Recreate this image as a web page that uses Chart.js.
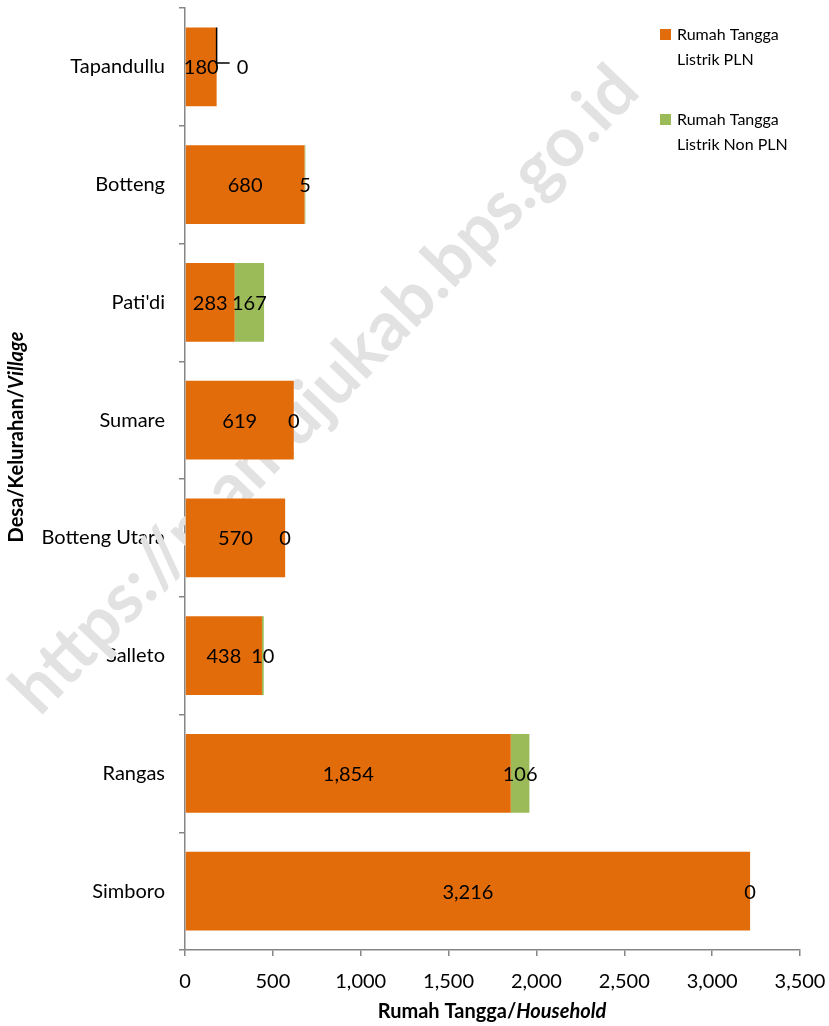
<!DOCTYPE html>
<html lang="id">
<head>
  <meta charset="UTF-8">
  <title>Rumah Tangga Listrik PLN / Non PLN</title>
  <script src="https://cdn.jsdelivr.net/npm/chart.js"></script>
  <style>
    body { margin: 0; background: #fff; }
    #chart { display: block; }
  </style>
</head>
<body>
  <canvas id="chart" width="829" height="1026"></canvas>

  <script>
    // Data
    const villages = ['Tapandullu', 'Botteng', "Pati'di", 'Sumare', 'Botteng Utara', 'Salleto', 'Rangas', 'Simboro'];
    const plnValues = [180, 680, 283, 619, 570, 438, 1854, 3216];
    const nonPlnValues = [0, 5, 167, 0, 0, 10, 106, 0];
    const seriesNames = [['Rumah Tangga', 'Listrik PLN'], ['Rumah Tangga', 'Listrik Non PLN']];
    const xTicks = [0, 500, 1000, 1500, 2000, 2500, 3000, 3500];

    const ORANGE = '#E36C0A';
    const GREEN = '#9BBB59';
    const AXIS = '#868686';
    const FONT = 'Lato, "Open Sans", sans-serif';

    // faint site watermark behind the bars
    const watermark = {
      id: 'watermark',
      beforeDatasetsDraw(chart) {
        const c = chart.ctx;
        c.save();
        c.translate(325, 390);
        c.rotate(-46 * Math.PI / 180);
        c.font = 'bold 69px ' + FONT;
        c.fillStyle = '#e2e2e2';
        c.textAlign = 'center';
        c.textBaseline = 'middle';
        c.fillText('https://mamujukab.bps.go.id', 0, 0);
        c.restore();
      }
    };

    // value labels centred on each segment
    const valueLabels = {
      id: 'valueLabels',
      afterDatasetsDraw(chart) {
        const c = chart.ctx;
        c.save();
        c.font = '20px ' + FONT;
        c.fillStyle = '#000';
        c.textAlign = 'center';
        c.textBaseline = 'middle';
        chart.data.datasets.forEach((ds, di) => {
          chart.getDatasetMeta(di).data.forEach((bar, i) => {
            const v = ds.data[i];
            let x = (bar.x + bar.base) / 2;
            const y = bar.y + 1;
            // Tapandullu's zero label sits out to the right with a leader line
            if (di === 1 && i === 0) {
              const h = bar.height / 2;
              c.strokeStyle = '#000';
              c.lineWidth = 1.5;
              c.beginPath();
              c.moveTo(bar.x, bar.y - h);
              c.lineTo(bar.x, bar.y - 4);
              c.lineTo(bar.x + 13, bar.y - 4);
              c.stroke();
              x = bar.x + 26;
            }
            c.fillText(v.toLocaleString('en-US'), x, y);
          });
        });
        c.restore();
      }
    };

    // legend and axis titles (mixed bold / bold-italic)
    const extras = {
      id: 'extras',
      afterDraw(chart) {
        const c = chart.ctx;
        c.save();
        // legend
        c.font = '16px ' + FONT;
        c.fillStyle = '#000';
        c.textBaseline = 'middle';
        c.textAlign = 'left';
        [[ORANGE, 35], [GREEN, 120]].forEach(([col, top], k) => {
          c.fillStyle = col;
          c.fillRect(660, top - 6, 11, 11);
          c.fillStyle = '#000';
          c.fillText(seriesNames[k][0], 677, top);
          c.fillText(seriesNames[k][1], 677, top + 25);
        });

        const mixed = (parts, cx, cy) => {
          let w = 0;
          parts.forEach(p => { c.font = p[1] + ' 20px ' + FONT; w += c.measureText(p[0]).width; });
          let x = cx - w / 2;
          parts.forEach(p => {
            c.font = p[1] + ' 20px ' + FONT;
            c.fillText(p[0], x, cy);
            x += c.measureText(p[0]).width;
          });
        };
        c.textAlign = 'left';
        mixed([['Rumah Tangga/', 'bold'], ['Household', 'italic bold']], 492, 1012);
        c.translate(17, 437);
        c.rotate(-Math.PI / 2);
        mixed([['Desa/Kelurahan/', 'bold'], ['Village', 'italic bold']], 0, 0);
        c.restore();
      }
    };

    new Chart(document.getElementById('chart'), {
      type: 'bar',
      data: {
        labels: villages,
        datasets: [
          { label: seriesNames[0].join(' '), data: plnValues, backgroundColor: ORANGE,
            categoryPercentage: 1, barPercentage: 0.67 },
          { label: seriesNames[1].join(' '), data: nonPlnValues, backgroundColor: GREEN,
            categoryPercentage: 1, barPercentage: 0.67 }
        ]
      },
      options: {
        indexAxis: 'y',
        responsive: false,
        animation: false,
        layout: { padding: { top: 8, right: 29, left: 0, bottom: 0 } },
        plugins: {
          legend: { display: false },
          tooltip: { enabled: false }
        },
        scales: {
          x: {
            stacked: true,
            min: 0, max: 3500,
            afterBuildTicks: s => { s.ticks = xTicks.map(v => ({ value: v })); },
            afterFit: s => { s.height = 76; s.paddingLeft = 0; s.paddingRight = 0; },
            border: { color: AXIS, width: 1.5 },
            grid: { drawOnChartArea: false, color: AXIS, tickLength: 6, lineWidth: 1.5 },
            ticks: {
              color: '#000', padding: 14,
              font: { family: FONT, size: 20 },
              callback: v => v.toLocaleString('en-US')
            }
          },
          y: {
            stacked: true,
            afterFit: s => { s.width = 185; s.paddingTop = 0; s.paddingBottom = 0; },
            border: { color: AXIS, width: 1.5 },
            grid: { offset: true, drawOnChartArea: false, color: AXIS, tickLength: 6, lineWidth: 1.5 },
            ticks: {
              color: '#000', padding: 14,
              font: { family: FONT, size: 20 }
            }
          }
        }
      },
      plugins: [watermark, valueLabels, extras]
    });
  </script>
</body>
</html>
